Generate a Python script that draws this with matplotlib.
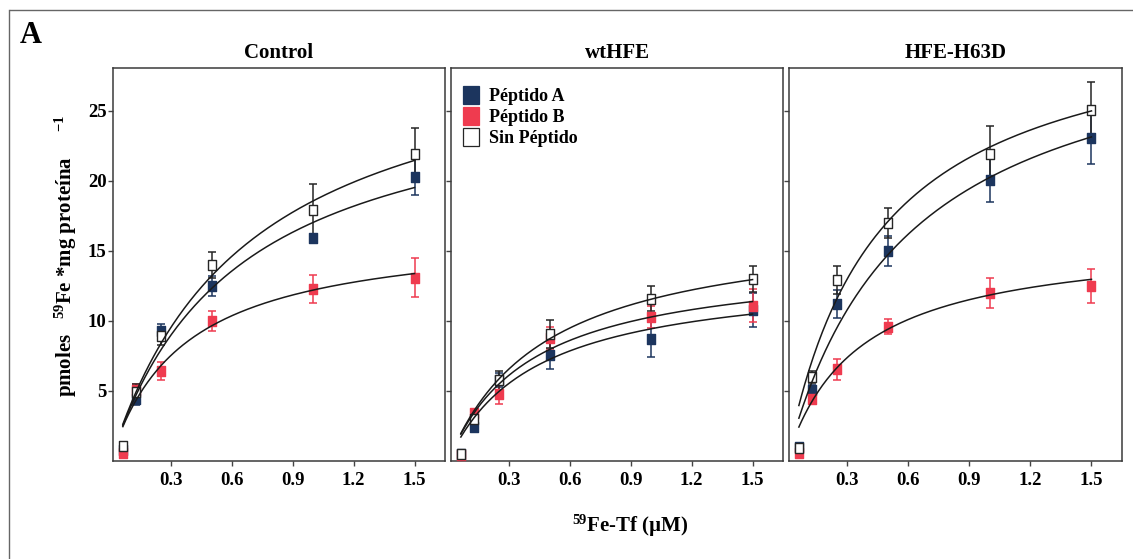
import numpy as np
import matplotlib
matplotlib.use("Agg")
import matplotlib.pyplot as plt
from matplotlib.lines import Line2D
from matplotlib.patches import Patch
from matplotlib.path import Path

plt.rcParams["font.family"] = ["Liberation Serif", "DejaVu Serif"]
plt.rcParams["font.weight"] = "bold"
plt.rcParams["mathtext.fontset"] = "custom"
plt.rcParams["mathtext.rm"] = "Liberation Serif:bold"
plt.rcParams["mathtext.bf"] = "Liberation Serif:bold"
plt.rcParams["mathtext.it"] = "Liberation Serif:bold:italic"
plt.rcParams["mathtext.default"] = "rm"

# ---- data -------------------------------------------------------------
panels = ["Control", "wtHFE", "HFE-H63D"]
series = ["Péptido A", "Péptido B", "Sin Péptido"]
conc = [0.0625, 0.125, 0.25, 0.5, 1.0, 1.5]          # 59Fe-Tf (uM)

control_a = [0.8, 4.4, 9.3, 12.5, 15.9, 20.3]
control_a_err = [0.15, 0.4, 0.5, 0.7, 0.3, 1.3]
control_b = [0.55, 5.1, 6.4, 10.0, 12.3, 13.1]
control_b_err = [0.1, 0.4, 0.65, 0.7, 1.0, 1.4]
control_s = [1.1, 4.9, 8.9, 14.0, 17.9, 21.9]
control_s_err = [0.15, 0.6, 0.6, 0.9, 1.9, 1.9]

wt_a = [0.48, 2.4, 5.8, 7.55, 8.7, 10.8]
wt_a_err = [0.1, 0.3, 0.5, 0.95, 1.3, 1.2]
wt_b = [0.4, 3.4, 4.76, 8.8, 10.3, 11.1]
wt_b_err = [0.1, 0.3, 0.7, 0.8, 0.8, 1.15]
wt_s = [0.5, 3.0, 5.76, 9.1, 11.6, 13.0]
wt_s_err = [0.1, 0.3, 0.7, 1.0, 0.9, 0.9]

h63d_a = [1.0, 5.05, 11.2, 15.0, 20.05, 23.1]
h63d_a_err = [0.1, 0.4, 1.0, 1.1, 1.55, 1.9]
h63d_b = [0.57, 4.45, 6.55, 9.6, 12.0, 12.5]
h63d_b_err = [0.1, 0.3, 0.75, 0.55, 1.05, 1.2]
h63d_s = [0.9, 6.0, 12.9, 17.0, 21.9, 25.1]
h63d_s_err = [0.1, 0.4, 1.0, 1.1, 2.0, 2.0]

# hyperbolic (Michaelis-Menten) fit parameters: Vmax, Km
control_vmax = [27.6, 16.6, 31.2]
control_km = [0.62, 0.36, 0.68]
wt_vmax = [13.5, 14.5, 17.1]
wt_km = [0.43, 0.41, 0.48]
h63d_vmax = [32.4, 16.0, 32.5]
h63d_km = [0.60, 0.35, 0.45]

panel_values = [
    ([control_a, control_b, control_s], [control_a_err, control_b_err, control_s_err],
     control_vmax, control_km),
    ([wt_a, wt_b, wt_s], [wt_a_err, wt_b_err, wt_s_err], wt_vmax, wt_km),
    ([h63d_a, h63d_b, h63d_s], [h63d_a_err, h63d_b_err, h63d_s_err], h63d_vmax, h63d_km),
]

# ---- styling -----------------------------------------------------------
BLUE = "#1c355e"
RED = "#ef3b4f"
INK = "#262626"
face_colors = [BLUE, RED, "white"]
edge_colors = [BLUE, RED, INK]
bar_colors = [BLUE, RED, INK]

# upright rectangle marker, slightly taller than wide
rect_marker = Path([(-0.8, -1), (0.8, -1), (0.8, 1), (-0.8, 1), (-0.8, -1)],
                   [Path.MOVETO, Path.LINETO, Path.LINETO, Path.LINETO, Path.CLOSEPOLY])

W, H = 1133, 559
fig = plt.figure(figsize=(W / 100, H / 100), dpi=100)


def rect(l, r, t, b):
    return [l / W, (H - b) / H, (r - l) / W, (b - t) / H]


panel_px = [(113, 445), (451, 783), (789, 1122)]
top_px, bot_px = 67.5, 461

axes = []
for i, (name, (l, r)) in enumerate(zip(panels, panel_px)):
    ax = fig.add_axes(rect(l, r, top_px, bot_px))
    axes.append(ax)
    vals, errs, vmax, km = panel_values[i]
    xfit = np.linspace(conc[0], conc[-1], 200)
    for k in range(3):
        ax.errorbar(conc, vals[k], yerr=errs[k], fmt="none", ecolor=bar_colors[k],
                    elinewidth=1.1, capsize=2.6, capthick=1.1, zorder=2)
        ax.plot(conc, vals[k], linestyle="none", marker=rect_marker, markersize=7.2,
                markerfacecolor=face_colors[k], markeredgecolor=edge_colors[k],
                markeredgewidth=1.0, zorder=3)
        ax.plot(xfit, vmax[k] * xfit / (km[k] + xfit), color="#1a1a1a", lw=1.1, zorder=4)

    ax.set_xlim(0.014, 1.65)
    ax.set_ylim(0, 28.1)
    ax.set_xticks([0.3, 0.6, 0.9, 1.2, 1.5])
    ax.set_xticklabels(["0.3", "0.6", "0.9", "1.2", "1.5"])
    ax.set_yticks([5, 10, 15, 20, 25])
    if i == 0:
        ax.set_yticklabels(["5", "10", "15", "20", "25"])
    else:
        ax.set_yticklabels([])
    ax.tick_params(axis="x", direction="out", length=3.5, width=1.0, pad=4.5,
                   labelsize=13.5, color="#444444")
    ax.tick_params(axis="y", direction="out", length=3.8, width=1.0, pad=0.8,
                   labelsize=13.5, color="#444444")
    for s in ax.spines.values():
        s.set_color("#3a3a3a")
        s.set_linewidth(1.1)
    ax.text(0.5, 1.037, name, transform=ax.transAxes, ha="center", va="center",
            fontsize=15, fontweight="bold")

# legend inside the middle panel
handles = [Patch(facecolor=face_colors[k], edgecolor=edge_colors[k], linewidth=0.9)
           for k in range(3)]
axes[1].legend(handles, series, loc="upper left", bbox_to_anchor=(0.036, 0.953),
               frameon=False, borderpad=0, borderaxespad=0,
               handlelength=0.9, handleheight=1.15, handletextpad=0.55,
               labelspacing=0.1, prop={"weight": "bold", "size": 13})

# axis titles
fig.text(66 / W, (H - 256) / H,
         "pmoles   $^{59}$Fe *mg proteína     $^{-1}$",
         rotation=90, ha="center", va="center", fontsize=15, fontweight="bold")
fig.text(630 / W, (H - 526) / H, "$^{59}$Fe-Tf (µM)", ha="center", va="center",
         fontsize=15, fontweight="bold")

# panel letter
fig.text(20 / W, (H - 43) / H, "A", ha="left", va="baseline", fontsize=22,
         fontweight="bold")

# outer frame (top and left edges)
fig.add_artist(Line2D([10 / W, 1.0], [(H - 10) / H, (H - 10) / H],
                      transform=fig.transFigure, color="#666666", lw=1.0))
fig.add_artist(Line2D([9 / W, 9 / W], [0.0, (H - 10) / H],
                      transform=fig.transFigure, color="#666666", lw=1.0))

fig.savefig("out.png", dpi=100, facecolor="white")
